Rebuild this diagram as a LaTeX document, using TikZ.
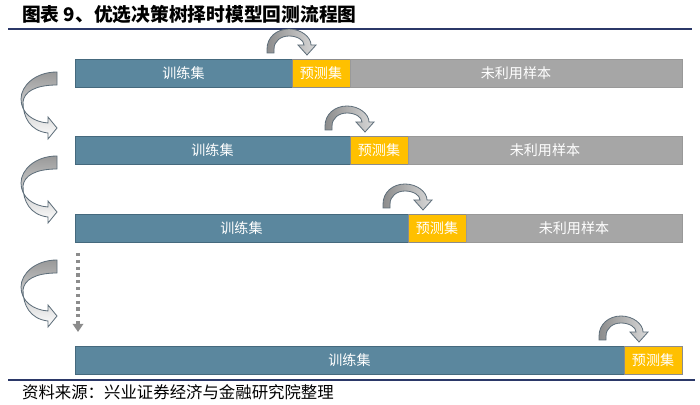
\documentclass[tikz,border=0pt]{standalone}
\usepackage{fontspec}
\newfontfamily\cjk{Noto Sans CJK SC}
\usetikzlibrary{arrows.meta,positioning}

\definecolor{trainblue}{HTML}{5B879E}
\definecolor{trainedge}{HTML}{45697D}
\definecolor{predyellow}{HTML}{FFC000}
\definecolor{restgray}{HTML}{A6A6A6}
\definecolor{rulenavy}{HTML}{2B3868}
\definecolor{arrowedge}{HTML}{5E6E7A}

\tikzset{
  bar/.style={draw, line width=0.6pt, minimum height=0.84cm, inner sep=0pt, outer sep=0pt,
    font=\cjk\fontsize{12}{12}\selectfont},
  train/.style={bar, fill=trainblue, draw=trainedge, text=white},
  predict/.style={bar, fill=predyellow, draw=black!45, text=white, minimum width=1.74cm},
  unused/.style={bar, fill=restgray, draw=black!40, text=white},
  hop/.style={draw=arrowedge, line width=0.7pt, left color=black!45, right color=black!15},
  turn/.style={draw=arrowedge, line width=0.7pt, top color=black!40, bottom color=white},
}

\begin{document}
\begin{tikzpicture}[x=0.03cm, y=-0.03cm]
\useasboundingbox (0,0) rectangle (700,405);

% Title and rules
\node[anchor=west, font=\cjk\bfseries\fontsize{16}{16}\selectfont] (title) at (18,14)
  {图表 9、优选决策树择时模型回测流程图};
\draw[rulenavy, line width=1.5pt] (8,29) -- (692,29);
\draw[rulenavy, line width=1.5pt] (8,380) -- (695,380);
\node[anchor=west, font=\cjk\fontsize{14}{14}\selectfont] (source) at (18,392)
  {资料来源：兴业证券经济与金融研究院整理};

% Row 1
\node[train, minimum width=6.51cm, anchor=north west] (t1) at (75,59) {训练集};
\node[predict, right=0pt of t1] (p1) {预测集};
\node[unused, minimum width=9.96cm, right=0pt of p1] (u1) {未利用样本};

% Row 2
\node[train, minimum width=8.25cm, anchor=north west] (t2) at (75,136) {训练集};
\node[predict, right=0pt of t2] (p2) {预测集};
\node[unused, minimum width=8.22cm, right=0pt of p2] (u2) {未利用样本};

% Row 3
\node[train, minimum width=9.99cm, anchor=north west] (t3) at (75,214) {训练集};
\node[predict, right=0pt of t3] (p3) {预测集};
\node[unused, minimum width=6.48cm, right=0pt of p3] (u3) {未利用样本};

% Row 4
\node[train, minimum width=16.47cm, anchor=north west] (t4) at (75,346) {训练集};
\node[predict, right=0pt of t4] (p4) {预测集};

% Hop arrows over the prediction windows
\foreach \n in {p1,p2,p3,p4}{
  \begin{scope}[shift={(\n.north west)}, xshift=-0.15cm]
    \draw[hop] (-20,-6) -- (-20,-10) .. controls (-20,-22) and (-10,-30) .. (2,-30)
      .. controls (14,-30) and (24,-22) .. (24,-14) -- (29,-14) -- (20,-4) -- (11,-14)
      -- (17,-14) .. controls (17,-19) and (10,-23) .. (2,-23)
      .. controls (-6,-23) and (-13,-18) .. (-13,-10) -- (-13,-6) -- cycle;
  \end{scope}
}

% Turn arrows on the left
\foreach \y in {72,156,260}{
  \begin{scope}[shift={(57,\y)}]
    \draw[turn] (0,0) .. controls (-22,0) and (-36,14) .. (-36,27)
      .. controls (-36,41) and (-24,50) .. (-9,51) -- (-9,45) -- (0,56) -- (-9,67)
      -- (-9,61) .. controls (-27,59) and (-34,45) .. (-34,30)
      .. controls (-33,20) and (-22,13) .. (0,13) -- cycle;
  \end{scope}
}

% Dotted continuation
\draw[black!45, line width=2.8pt, dash pattern=on 2.8pt off 3pt,
  -{Triangle[width=9pt,length=7pt]}]
  ([shift={(3,11)}]t3.south west) -- ([shift={(3,-14)}]t4.north west);

\end{tikzpicture}
\end{document}
